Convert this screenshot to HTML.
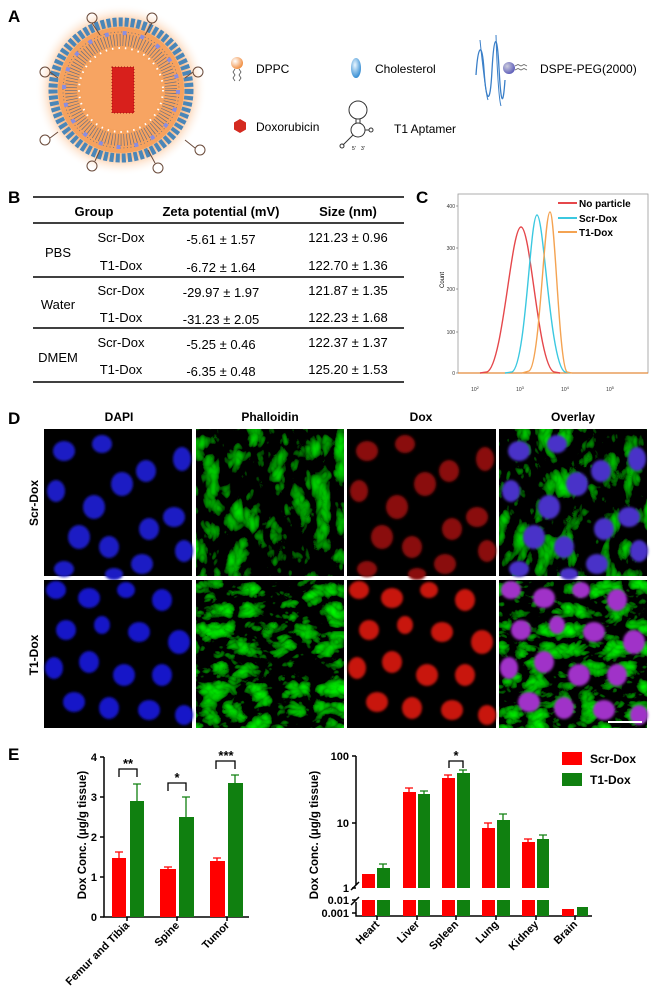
<!DOCTYPE html>
<html><head><meta charset="utf-8"><style>
html,body{margin:0;padding:0;background:#fff;}
svg{display:block;font-family:"Liberation Sans",Arial,sans-serif;}
</style></head><body>
<svg width="653" height="1001" viewBox="0 0 653 1001" xmlns="http://www.w3.org/2000/svg">
<defs>
<radialGradient id="glow" cx="0.5" cy="0.5" r="0.5">
<stop offset="0.6" stop-color="#f7a35c"/><stop offset="0.8" stop-color="#fbc9a0"/><stop offset="1" stop-color="#fff" stop-opacity="0"/></radialGradient>
<radialGradient id="ball" cx="0.35" cy="0.35" r="0.7"><stop offset="0" stop-color="#fff"/><stop offset="1" stop-color="#f08a3a"/></radialGradient>
<radialGradient id="bball" cx="0.35" cy="0.35" r="0.7"><stop offset="0" stop-color="#ccd"/><stop offset="1" stop-color="#5a5ab8"/></radialGradient>
<radialGradient id="chol" cx="0.4" cy="0.35" r="0.7"><stop offset="0" stop-color="#e8f6ff"/><stop offset="1" stop-color="#2a86d0"/></radialGradient>
<filter id="grn" x="0" y="0" width="1" height="1">
<feTurbulence type="turbulence" baseFrequency="0.045 0.03" numOctaves="3" seed="4"/>
<feColorMatrix type="matrix" values="0 0 0 0 0  1.6 0 0 0 -0.45  0 0 0 0 0  0 0 0 0 1"/>
</filter>
<filter id="grn2" x="0" y="0" width="1" height="1">
<feTurbulence type="turbulence" baseFrequency="0.04 0.05" numOctaves="3" seed="11"/>
<feColorMatrix type="matrix" values="0 0 0 0 0  1.7 0 0 0 -0.42  0 0 0 0 0  0 0 0 0 1"/>
</filter>
<filter id="bl"><feGaussianBlur stdDeviation="1.2"/></filter>
<g id="n1">
<ellipse cx="20" cy="22" rx="11" ry="10"/><ellipse cx="58" cy="15" rx="10" ry="9"/><ellipse cx="12" cy="62" rx="9" ry="11"/>
<ellipse cx="78" cy="55" rx="11" ry="12"/><ellipse cx="102" cy="42" rx="10" ry="11"/><ellipse cx="138" cy="30" rx="9" ry="12"/>
<ellipse cx="130" cy="88" rx="11" ry="10"/><ellipse cx="105" cy="100" rx="10" ry="11"/><ellipse cx="35" cy="108" rx="11" ry="12"/>
<ellipse cx="65" cy="118" rx="10" ry="11"/><ellipse cx="98" cy="135" rx="11" ry="10"/><ellipse cx="140" cy="122" rx="9" ry="11"/>
<ellipse cx="20" cy="140" rx="10" ry="8"/><ellipse cx="50" cy="78" rx="11" ry="12"/><ellipse cx="70" cy="145" rx="9" ry="6"/>
</g>
<g id="n2">
<ellipse cx="12" cy="10" rx="10" ry="9"/><ellipse cx="45" cy="18" rx="11" ry="10"/><ellipse cx="82" cy="10" rx="9" ry="8"/>
<ellipse cx="118" cy="20" rx="10" ry="11"/><ellipse cx="22" cy="50" rx="10" ry="10"/><ellipse cx="58" cy="45" rx="8" ry="9"/>
<ellipse cx="95" cy="52" rx="11" ry="10"/><ellipse cx="135" cy="62" rx="11" ry="12"/><ellipse cx="10" cy="88" rx="9" ry="11"/>
<ellipse cx="45" cy="82" rx="10" ry="11"/><ellipse cx="80" cy="95" rx="11" ry="11"/><ellipse cx="118" cy="95" rx="10" ry="11"/>
<ellipse cx="30" cy="122" rx="11" ry="10"/><ellipse cx="65" cy="128" rx="10" ry="11"/><ellipse cx="105" cy="130" rx="11" ry="10"/>
<ellipse cx="140" cy="135" rx="9" ry="10"/>
</g>
</defs>
<rect width="653" height="1001" fill="#fff"/>

<!-- Panel A -->
<text x="8" y="22" font-size="17" font-weight="bold">A</text>
<circle cx="121" cy="90" r="86" fill="url(#glow)"/>
<circle cx="121" cy="90" r="68" fill="none" stroke="#4a86b8" stroke-width="9" stroke-dasharray="4 2"/>
<circle cx="121" cy="90" r="63" fill="#f6a25e"/>
<circle cx="121" cy="90" r="58" fill="none" stroke="#6a6f80" stroke-width="0.8" stroke-dasharray="1 2.5"/>
<circle cx="121" cy="90" r="50" fill="none" stroke="#6a6f80" stroke-width="12" stroke-dasharray="0.7 2.3"/>
<circle cx="121" cy="90" r="57" fill="none" stroke="#8a8ee0" stroke-width="4" stroke-dasharray="4 14"/>
<circle cx="121" cy="90" r="42" fill="none" stroke="#fff" stroke-width="2" stroke-dasharray="1.5 5"/>
<circle cx="121" cy="90" r="40" fill="#f7a462"/>
<rect x="112" y="67" width="22" height="46" fill="#d8201c"/>
<rect x="112" y="67" width="22" height="46" fill="none" stroke="#a01010" stroke-width="1" stroke-dasharray="1 2"/>
<g fill="none" stroke="#6a4a3a" stroke-width="1">
<circle cx="92" cy="18" r="5"/><circle cx="152" cy="18" r="5"/><circle cx="45" cy="72" r="5"/><circle cx="198" cy="72" r="5"/>
<circle cx="45" cy="140" r="5"/><circle cx="200" cy="150" r="5"/><circle cx="92" cy="166" r="5"/><circle cx="158" cy="168" r="5"/>
<path d="M92 23 L100 35 M152 23 L145 35 M50 72 L58 78 M193 72 L185 78 M50 138 L58 132 M195 148 L185 140 M95 161 L100 150 M155 163 L148 150"/>
</g>
<circle cx="237" cy="63" r="6" fill="url(#ball)"/>
<path d="M235 69 l-2 3 2 3 -2 3 2 3 M239 69 l2 3 -2 3 2 3 -2 3" fill="none" stroke="#555" stroke-width="0.8"/>
<text x="256" y="73" font-size="12">DPPC</text>
<ellipse cx="356" cy="68" rx="5" ry="10" fill="url(#chol)"/>
<text x="375" y="73" font-size="12">Cholesterol</text>
<path d="M476 75 C478 45,482 40,484 70 C486 100,490 110,492 70 C494 35,497 30,499 68 C501 105,503 108,505 80" fill="none" stroke="#3a7fc8" stroke-width="1.3"/>
<path d="M480 40 C482 60,486 95,488 100 M496 35 C497 70,499 100,501 106" fill="none" stroke="#3a7fc8" stroke-width="1"/>
<circle cx="509" cy="68" r="6" fill="url(#bball)"/>
<path d="M515 66 l3 -1.5 3 1.5 3 -1.5 3 1.5 M515 70 l3 -1.5 3 1.5 3 -1.5 3 1.5" fill="none" stroke="#666" stroke-width="0.8"/>
<text x="540" y="73" font-size="12">DSPE-PEG(2000)</text>
<polygon points="240,119 246,122.5 246,129.5 240,133 234,129.5 234,122.5" fill="#d42a20"/>
<text x="256" y="131" font-size="12">Doxorubicin</text>
<g fill="none" stroke="#333" stroke-width="1">
<circle cx="358" cy="110" r="9"/><circle cx="358" cy="130" r="7"/>
<path d="M356 119 v4 M360 119 v4 M353 135 l-10 10 M365 130 h4"/><circle cx="342" cy="146" r="2"/><circle cx="371" cy="130" r="2"/>
</g>
<text x="352" y="150" font-size="5">5'</text><text x="361" y="150" font-size="5">3'</text>
<text x="394" y="133" font-size="12">T1 Aptamer</text>

<!-- Panel B -->
<text x="8" y="203" font-size="17" font-weight="bold">B</text>
<g stroke="#000" stroke-width="1.5">
<line x1="33" y1="197" x2="404" y2="197"/><line x1="33" y1="223" x2="404" y2="223"/>
<line x1="33" y1="277" x2="404" y2="277"/><line x1="33" y1="328" x2="404" y2="328"/><line x1="33" y1="382" x2="404" y2="382"/>
</g>
<g font-size="13" text-anchor="middle">
<text x="94" y="216" font-weight="bold">Group</text><text x="221" y="216" font-weight="bold">Zeta potential (mV)</text><text x="348" y="216" font-weight="bold">Size (nm)</text>
<text x="58" y="257">PBS</text><text x="58" y="309">Water</text><text x="58" y="362">DMEM</text>
<text x="121" y="242">Scr-Dox</text><text x="121" y="270">T1-Dox</text><text x="121" y="295">Scr-Dox</text><text x="121" y="322">T1-Dox</text><text x="121" y="347">Scr-Dox</text><text x="121" y="374">T1-Dox</text>
<text x="221" y="244">-5.61 ± 1.57</text><text x="221" y="272">-6.72 ± 1.64</text><text x="221" y="297">-29.97 ± 1.97</text><text x="221" y="324">-31.23 ± 2.05</text><text x="221" y="349">-5.25 ± 0.46</text><text x="221" y="376">-6.35 ± 0.48</text>
<text x="348" y="242">121.23 ± 0.96</text><text x="348" y="270">122.70 ± 1.36</text><text x="348" y="295">121.87 ± 1.35</text><text x="348" y="322">122.23 ± 1.68</text><text x="348" y="347">122.37 ± 1.37</text><text x="348" y="374">125.20 ± 1.53</text>
</g>

<!-- Panel C -->
<text x="416" y="203" font-size="17" font-weight="bold">C</text>
<rect x="458" y="194" width="190" height="179" fill="none" stroke="#999" stroke-width="0.8"/>
<g font-size="5" fill="#333" text-anchor="end">
<text x="455" y="375">0</text><text x="455" y="334">100</text><text x="455" y="291">200</text><text x="455" y="250">300</text><text x="455" y="208">400</text>
</g>
<g stroke="#666" stroke-width="0.6"><line x1="456" y1="373" x2="458" y2="373"/><line x1="456" y1="332" x2="458" y2="332"/><line x1="456" y1="289" x2="458" y2="289"/><line x1="456" y1="248" x2="458" y2="248"/><line x1="456" y1="206" x2="458" y2="206"/></g>
<text transform="translate(444,280) rotate(-90)" font-size="6" text-anchor="middle">Count</text>
<g font-size="5" fill="#333" text-anchor="middle">
<text x="475" y="391">10<tspan dy="-2" font-size="4">2</tspan></text><text x="520" y="391">10<tspan dy="-2" font-size="4">3</tspan></text><text x="565" y="391">10<tspan dy="-2" font-size="4">4</tspan></text><text x="610" y="391">10<tspan dy="-2" font-size="4">5</tspan></text>
</g>
<line x1="458" y1="373" x2="648" y2="373" stroke="#e38a3a" stroke-width="1.2"/>
<path d="M480 373 L487 372 C503 366,511 227,521 227 C531 227,538 366,554 372 L560 373" fill="none" stroke="#e5474b" stroke-width="1.4"/>
<path d="M505 373 L512 372 C526 366,530 215,537 215 C544 215,550 366,565 372 L570 373" fill="none" stroke="#3bc8e0" stroke-width="1.4"/>
<path d="M522 373 L529 371 C540 366,544 212,550 212 C555 212,559 366,567 372 L572 373" fill="none" stroke="#f4a352" stroke-width="1.4"/>
<g font-size="10" font-weight="bold">
<line x1="558" y1="203" x2="577" y2="203" stroke="#e5474b" stroke-width="2"/><text x="579" y="207">No particle</text>
<line x1="558" y1="218" x2="577" y2="218" stroke="#3bc8e0" stroke-width="2"/><text x="579" y="222">Scr-Dox</text>
<line x1="558" y1="232" x2="577" y2="232" stroke="#f4a352" stroke-width="2"/><text x="579" y="236">T1-Dox</text>
</g>

<!-- Panel D -->
<text x="8" y="424" font-size="17" font-weight="bold">D</text>
<g font-size="12" font-weight="bold" text-anchor="middle">
<text x="119" y="421">DAPI</text><text x="270" y="421">Phalloidin</text><text x="421" y="421">Dox</text><text x="573" y="421">Overlay</text>
<text transform="translate(38,503) rotate(-90)">Scr-Dox</text><text transform="translate(38,655) rotate(-90)">T1-Dox</text>
</g>
<rect x="44" y="429" width="148" height="147" fill="#000"/>
<g transform="translate(44,429)" fill="#1a1ac4" filter="url(#bl)"><use href="#n1"/></g>
<rect x="196" y="429" width="148" height="147" filter="url(#grn)"/>
<rect x="347" y="429" width="149" height="147" fill="#000"/>
<g transform="translate(347,429)" fill="#8a0c0a" filter="url(#bl)"><use href="#n1"/></g>
<rect x="499" y="429" width="148" height="147" filter="url(#grn)"/>
<g transform="translate(499,429)" fill="#4a32c8" filter="url(#bl)"><use href="#n1"/></g>
<rect x="44" y="580" width="148" height="148" fill="#000"/>
<g transform="translate(44,580)" fill="#1414c8" filter="url(#bl)"><use href="#n2"/></g>
<rect x="196" y="580" width="148" height="148" filter="url(#grn2)"/>
<rect x="347" y="580" width="149" height="148" fill="#000"/>
<g transform="translate(347,580)" fill="#c8150e" filter="url(#bl)"><use href="#n2"/></g>
<rect x="499" y="580" width="148" height="148" filter="url(#grn2)"/>
<g transform="translate(499,580)" fill="#a030c8" filter="url(#bl)"><use href="#n2"/></g>
<line x1="608" y1="722" x2="642" y2="722" stroke="#fff" stroke-width="2"/>

<!-- Panel E -->
<text x="8" y="760" font-size="17" font-weight="bold">E</text>
<g stroke="#000" stroke-width="1.5" fill="none">
<path d="M104 757 V917 H249"/>
<path d="M100 757 H104 M100 797 H104 M100 837 H104 M100 877 H104 M100 917 H104"/>
<path d="M127 917 v4 M177 917 v4 M227 917 v4"/>
</g>
<g font-size="11" font-weight="bold" text-anchor="end">
<text x="97" y="761">4</text><text x="97" y="801">3</text><text x="97" y="841">2</text><text x="97" y="881">1</text><text x="97" y="921">0</text>
</g>
<text transform="translate(86,835) rotate(-90)" font-size="11.5" font-weight="bold" text-anchor="middle">Dox Conc.  (μg/g tissue)</text>
<g fill="#f00">
<rect x="112" y="858" width="14" height="59"/><rect x="160" y="869" width="16" height="48"/><rect x="210" y="861" width="15" height="56"/>
</g>
<g fill="#108010">
<rect x="130" y="801" width="14" height="116"/><rect x="179" y="817" width="15" height="100"/><rect x="228" y="783" width="15" height="134"/>
</g>
<g stroke="#f00" stroke-width="1.3"><path d="M119 858 V852 M115 852 H123 M168 869 V867 M164 867 H172 M217 861 V858 M213 858 H221"/></g>
<g stroke="#108010" stroke-width="1.3"><path d="M137 801 V784 M133 784 H141 M186 817 V797 M182 797 H190 M235 783 V775 M231 775 H239"/></g>
<g stroke="#000" stroke-width="1.3" fill="none"><path d="M119 777 V769 H137 V777 M168 791 V783 H186 V791 M216 769 V761 H235 V769"/></g>
<g font-size="13" font-weight="bold" text-anchor="middle"><text x="128" y="768">**</text><text x="177" y="782">*</text><text x="226" y="760">***</text></g>
<g font-size="11" font-weight="bold" text-anchor="end">
<text transform="translate(130,926) rotate(-45)">Femur and Tibia</text>
<text transform="translate(180,926) rotate(-45)">Spine</text>
<text transform="translate(230,926) rotate(-45)">Tumor</text>
</g>
<g stroke="#000" stroke-width="1.5" fill="none">
<path d="M356 756 V885 M356 902 V916 H592"/>
<path d="M352 756 H356 M352 823 H356 M352 888 H356 M352 900 H356 M352 913 H356"/>
<path d="M351 890 l8 -8 M351 905 l8 -8"/>
<path d="M377 916 v4 M417 916 v4 M456 916 v4 M496 916 v4 M536 916 v4 M575 916 v4"/>
</g>
<g font-size="11" font-weight="bold" text-anchor="end">
<text x="349" y="760">100</text><text x="349" y="827">10</text><text x="349" y="892">1</text><text x="349" y="904">0.01</text><text x="349" y="917">0.001</text>
</g>
<text transform="translate(318,835) rotate(-90)" font-size="11.5" font-weight="bold" text-anchor="middle">Dox Conc.  (μg/g tissue)</text>
<g fill="#f00">
<rect x="362" y="874" width="13" height="14"/><rect x="362" y="900" width="13" height="16"/>
<rect x="403" y="792" width="13" height="96"/><rect x="403" y="900" width="13" height="16"/>
<rect x="442" y="778" width="13" height="110"/><rect x="442" y="900" width="13" height="16"/>
<rect x="482" y="828" width="13" height="60"/><rect x="482" y="900" width="13" height="16"/>
<rect x="522" y="842" width="13" height="46"/><rect x="522" y="900" width="13" height="16"/>
<rect x="562" y="909" width="12" height="7"/>
</g>
<g fill="#108010">
<rect x="377" y="868" width="13" height="20"/><rect x="377" y="900" width="13" height="16"/>
<rect x="418" y="794" width="12" height="94"/><rect x="418" y="900" width="12" height="16"/>
<rect x="457" y="773" width="13" height="115"/><rect x="457" y="900" width="13" height="16"/>
<rect x="497" y="820" width="13" height="68"/><rect x="497" y="900" width="13" height="16"/>
<rect x="537" y="839" width="12" height="49"/><rect x="537" y="900" width="12" height="16"/>
<rect x="577" y="907" width="11" height="9"/>
</g>
<g stroke="#f00" stroke-width="1.3"><path d="M409 792 V788 M405 788 H413 M448 778 V775 M444 775 H452 M488 828 V823 M484 823 H492 M528 842 V839 M524 839 H532"/></g>
<g stroke="#108010" stroke-width="1.3"><path d="M383 868 V864 M379 864 H387 M424 794 V791 M420 791 H428 M463 773 V770 M459 770 H467 M503 820 V814 M499 814 H507 M543 839 V835 M539 835 H547"/></g>
<path d="M449 768 V761 H463 V768" stroke="#000" stroke-width="1.3" fill="none"/>
<text x="456" y="760" font-size="13" font-weight="bold" text-anchor="middle">*</text>
<g font-size="11" font-weight="bold" text-anchor="end">
<text transform="translate(380,925) rotate(-45)">Heart</text>
<text transform="translate(420,925) rotate(-45)">Liver</text>
<text transform="translate(459,925) rotate(-45)">Spleen</text>
<text transform="translate(499,925) rotate(-45)">Lung</text>
<text transform="translate(539,925) rotate(-45)">Kidney</text>
<text transform="translate(578,925) rotate(-45)">Brain</text>
</g>
<rect x="562" y="752" width="20" height="13" fill="#f00"/><text x="590" y="763" font-size="12" font-weight="bold">Scr-Dox</text>
<rect x="562" y="773" width="20" height="13" fill="#108010"/><text x="590" y="784" font-size="12" font-weight="bold">T1-Dox</text>
</svg>
</body></html>
